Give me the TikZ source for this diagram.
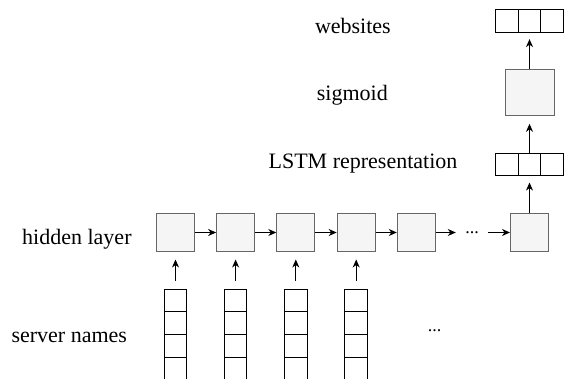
\documentclass[tikz,border=0pt]{standalone}
\usepackage{fontspec}
\setmainfont{Liberation Serif}
\usetikzlibrary{arrows.meta}
\definecolor{boxline}{HTML}{666666}
\definecolor{boxfill}{HTML}{F5F5F5}
\begin{document}
\begin{tikzpicture}[x=1pt,y=-1pt,
  hbox/.style={draw=boxline, fill=boxfill, line width=1pt, minimum width=38pt, minimum height=38pt, inner sep=0pt},
  sbox/.style={draw=boxline, fill=boxfill, line width=1pt, minimum width=49pt, minimum height=46pt, inner sep=0pt},
  cell/.style={draw=black, line width=1pt, minimum width=22.6pt, minimum height=22.7pt, inner sep=0pt},
  lbl/.style={font=\fontsize{22}{26}\selectfont, anchor=base, inner sep=0pt},
  dotsnode/.style={font=\fontsize{18}{22}\selectfont, inner sep=0pt, minimum width=32pt},
  arr/.style={-{Stealth[length=8pt,width=7pt,inset=2.5pt]}, line width=1pt},
]
\useasboundingbox (0,0) rectangle (564,379);

% labels
\node[lbl] (tw) at (352.9,33.3) {websites};
\node[lbl] (ts) at (352.3,101) {sigmoid};
\node[lbl] (tl) at (363,168.3) {LSTM representation};
\node[lbl] (th) at (76.9,244) {hidden layer};
\node[lbl] (tn) at (69.3,342.3) {server names};

% hidden layer
\node[hbox] (h1) at (175.5,232.5) {};
\node[hbox] (h2) at (235.6,232.5) {};
\node[hbox] (h3) at (295.8,232.5) {};
\node[hbox] (h4) at (356.2,232.5) {};
\node[hbox] (h5) at (416.3,232.5) {};
\node[dotsnode] (hd) at (472,232.5) {...};
\node[hbox] (h6) at (529.5,232.5) {};

\draw[arr] (h1) -- (h2);
\draw[arr] (h2) -- (h3);
\draw[arr] (h3) -- (h4);
\draw[arr] (h4) -- (h5);
\draw[arr] (h5) -- (hd);
\draw[arr] (hd) -- (h6);

% server name columns
\foreach \c/\x in {1/175.5,2/235.6,3/295.8,4/356.2}{
  \node[cell] (s\c a) at (\x,300.35) {};
  \node[cell] (s\c b) at (\x,323.05) {};
  \node[cell] (s\c c) at (\x,345.75) {};
  \node[cell] (s\c d) at (\x,368.45) {};
  \draw[arr, shorten <=8pt, shorten >=7.5pt] (s\c a.north) -- (h\c.south);
}
\node[dotsnode, minimum width=0pt] (sd) at (434.5,331) {...};

% LSTM representation
\node[cell] (l1) at (506.9,164.4) {};
\node[cell] (l2) at (529.5,164.4) {};
\node[cell] (l3) at (552.1,164.4) {};

% sigmoid
\node[sbox] (sg) at (529.5,92.8) {};

% websites
\node[cell] (w1) at (506.9,21.3) {};
\node[cell] (w2) at (529.5,21.3) {};
\node[cell] (w3) at (552.1,21.3) {};

\draw[arr, shorten >=6.3pt] (h6.north) -- (l2.south);
\draw[arr, shorten >=7.5pt] (l2.north) -- (sg.south);
\draw[arr, shorten >=6pt] (sg.north) -- (w2.south);
\end{tikzpicture}
\end{document}
